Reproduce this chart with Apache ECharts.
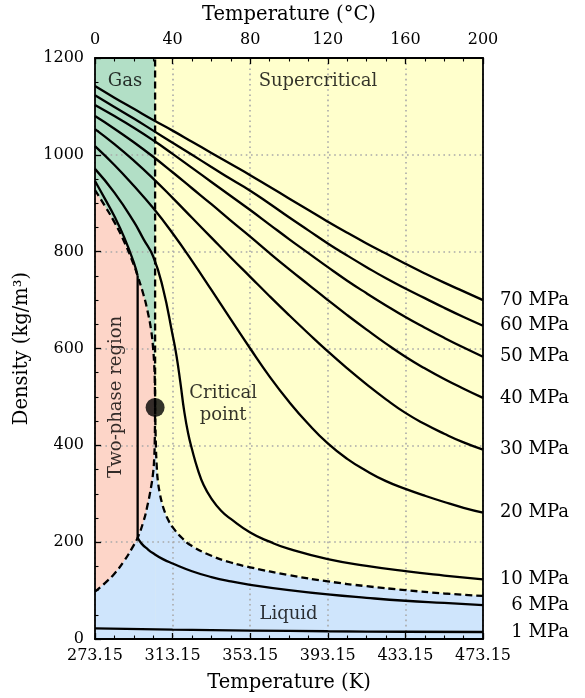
<!DOCTYPE html>
<html>
<head>
<meta charset="utf-8">
<title>CO2 density isobars</title>
<script src="https://cdn.jsdelivr.net/npm/echarts@6/dist/echarts.min.js"></script>
<style>
  html, body { margin: 0; padding: 0; background: #fff; }
  #chart { width: 585px; height: 698px; }
</style>
</head>
<body>
<div id="chart"></div>
<script>
// Critical point of CO2 (K, kg/m3)
const T_CRIT = 304.13;
const RHO_CRIT = 478;

// Isobars 20–70 MPa share one temperature grid (K), every 10 K
const T_ISO = [273.15, 283.15, 293.15, 303.15, 313.15, 323.15, 333.15, 343.15, 353.15, 363.15, 373.15,
               383.15, 393.15, 403.15, 413.15, 423.15, 433.15, 443.15, 453.15, 463.15, 473.15];
const rho70 = [1142, 1118, 1095, 1072, 1050, 1027, 1004, 981, 958, 934, 910, 886, 862, 839, 817, 796, 775, 755, 736, 718, 700];
const rho60 = [1123, 1099, 1075, 1050, 1025, 1000, 975, 950, 926, 899, 871, 844, 817, 792, 768, 745, 724, 704, 684, 665, 647];
const rho50 = [1103, 1080, 1056, 1030, 1002, 973, 944, 915, 886, 856, 826, 797, 768, 740, 714, 689, 665, 643, 622, 602, 583];
const rho40 = [1080, 1054, 1026, 996, 964, 931, 898, 864, 831, 797, 764, 732, 700, 669, 639, 610, 583, 559, 537, 517, 498];
const rho30 = [1053, 1022, 988, 951, 911, 870, 829, 788, 748, 708, 669, 631, 594, 559, 526, 495, 467, 444, 424, 406, 391];
const rho20 = [1018, 979, 936, 890, 838, 781, 721, 660, 600, 542, 490, 444, 404, 372, 347, 326, 310, 296, 283, 271, 261];

// 10 MPa isobar (steep drop just above the critical temperature)
const T_10 = [273.15, 283.15, 293.15, 298.15, 303.15, 308.15, 313.15, 315.15, 317.15, 319.15, 321.15, 323.15, 326.15, 329.15, 333.15, 338.15, 343.15, 353.15, 363.15, 373.15, 393.15, 413.15, 433.15, 453.15, 473.15];
const rho10 = [971, 922, 862, 826, 790, 725, 628, 585, 530, 470, 425, 392, 350, 318, 290, 265, 248, 220, 201, 186, 165, 151, 140, 131, 123];

// 6 MPa isobar: liquid branch, boiling at 295.13 K, vapour branch
const T_6_LIQ = [273.15, 278.15, 283.15, 288.15, 293.15, 295.13];
const rho6Liq = [946, 910, 873, 830, 778, 750];
const T_6_VAP = [295.13, 297.15, 300.15, 303.15, 308.15, 313.15, 323.15, 333.15, 343.15, 353.15, 373.15, 393.15, 413.15, 433.15, 453.15, 473.15];
const rho6Vap = [209, 197, 186, 177, 165, 156, 140, 128, 119, 112, 101, 92, 85, 79, 74.5, 70];

// 1 MPa isobar (gas throughout)
const T_1 = [273.15, 313.15, 353.15, 393.15, 433.15, 473.15];
const rho1 = [22, 19.5, 17.5, 16, 15, 14.5];

// Saturation curve (liquid and vapour densities)
const T_SAT = [273.15, 278.15, 283.15, 288.15, 293.15, 295.13, 298.15, 300.15, 302.15, 303.15, 303.65, 303.95, T_CRIT];
const rhoSatLiq = [927, 895, 861, 821, 773, 750, 711, 679, 636, 598, 568, 538, RHO_CRIT];
const rhoSatVap = [98, 115, 135, 161, 194, 209, 243, 275, 316, 345, 372, 408, RHO_CRIT];

// Critical isobar (7.38 MPa) above the critical temperature
const T_CRIT_ISO = [T_CRIT, 304.5, 305.0, 305.6, 306.6, 307.6, 309.15, 311.15, 313.15, 318.15, 323.15, 333.15, 343.15, 353.15, 373.15, 393.15, 413.15, 433.15, 453.15, 473.15];
const rhoCritIso = [RHO_CRIT, 405, 355, 325, 300, 282, 262, 244, 231, 208, 192, 172, 158, 148, 132, 119, 109, 101, 94, 89];

// Axis extents and ticks
const T_MIN = 273.15, T_MAX = 473.15;
const RHO_MAX = 1200;
const C_TICK = 40, RHO_TICK = 200;

// Region names: [T (K), density, text]
const regionLabels = [
  [288.6, 1152, 'Gas'],
  [388.1, 1151, 'Supercritical'],
  [339.2, 484, 'Critical\npoint'],
  [372.9, 51, 'Liquid']
];
const twoPhaseLabel = [284.4, 500, 'Two-phase region'];

const FONT = 'DejaVu Serif';
const FS_TICK = 16;
const FS = 18;
const FS_NAME = 19.5;

const toC = t => +(t - 273.15).toFixed(3);
const pts = (T, rho) => T.map((t, i) => [toC(t), rho[i]]);

const FILL = { gas: '#b2dfc6', super: '#ffffcc', twoPhase: '#fdd5c8', liquid: '#cfe5fc' };
const SMOOTH = 0.5;

function fill(data, color, z) {
  return {
    type: 'line', data, z, silent: true, symbol: 'none',
    smooth: SMOOTH,
    lineStyle: { width: 0, opacity: 0 },
    areaStyle: { color, opacity: 1, origin: 'start' }
  };
}

function curve(name, data, opts) {
  opts = opts || {};
  const s = {
    type: 'line', name, data, z: 6, silent: true, symbol: 'none',
    smooth: opts.straight ? false : SMOOTH,
    lineStyle: { color: '#000', width: 2.3, type: opts.dashed ? [7, 4] : 'solid' }
  };
  if (opts.label) {
    s.endLabel = {
      show: true, formatter: opts.label, distance: 86, align: 'right',
      color: '#000', fontFamily: FONT, fontSize: FS,
      padding: opts.lift ? [0, 0, opts.lift, 0] : 0
    };
  }
  return s;
}

const isobars = [
  ['70 MPa', rho70], ['60 MPa', rho60], ['50 MPa', rho50],
  ['40 MPa', rho40], ['30 MPa', rho30], ['20 MPa', rho20]
];

const series = [
  // background regions
  fill([[toC(T_MIN), RHO_MAX], [toC(T_CRIT), RHO_MAX]], FILL.gas, 1),
  fill([[toC(T_CRIT), RHO_MAX], [toC(T_MAX), RHO_MAX]], FILL.super, 1),
  fill(pts(T_SAT, rhoSatLiq), FILL.twoPhase, 2),
  fill(pts(T_SAT, rhoSatVap), FILL.liquid, 3),
  fill(pts(T_CRIT_ISO, rhoCritIso), FILL.liquid, 3),
  // phase boundaries
  curve('sat-liq', pts(T_SAT, rhoSatLiq), { dashed: true }),
  curve('sat-vap', pts(T_SAT, rhoSatVap), { dashed: true }),
  curve('crit-iso', pts(T_CRIT_ISO, rhoCritIso), { dashed: true }),
  curve('crit-T', [[toC(T_CRIT), RHO_CRIT], [toC(T_CRIT), RHO_MAX]], { dashed: true, straight: true }),
  // isobars
  ...isobars.map(([n, r]) => curve(n, pts(T_ISO, r), { label: n })),
  curve('10 MPa', pts(T_10, rho10), { label: '10 MPa' }),
  curve('6 MPa liquid', pts(T_6_LIQ, rho6Liq)),
  curve('6 MPa boiling', [[toC(295.13), rho6Liq[rho6Liq.length - 1]], [toC(295.13), rho6Vap[0]]], { straight: true }),
  curve('6 MPa', pts(T_6_VAP, rho6Vap), { label: '6 MPa', lift: 6 }),
  curve('1 MPa', pts(T_1, rho1), { label: '1 MPa' }),
  // critical point
  {
    type: 'scatter', z: 7, silent: true, symbol: 'circle', symbolSize: 19,
    itemStyle: { color: '#000' }, data: [[toC(T_CRIT), RHO_CRIT]]
  },
  // region names
  {
    type: 'scatter', z: 8, silent: true, symbolSize: 1,
    itemStyle: { color: 'transparent' },
    data: regionLabels.map(([t, r, txt]) => ({ value: [toC(t), r], name: txt })),
    label: {
      show: true, position: 'inside', formatter: p => p.name,
      color: '#000', fontFamily: FONT, fontSize: FS, lineHeight: 22, align: 'center'
    }
  },
  {
    type: 'scatter', z: 8, silent: true, symbolSize: 1,
    itemStyle: { color: 'transparent' },
    data: [{ value: [toC(twoPhaseLabel[0]), twoPhaseLabel[1]], name: twoPhaseLabel[2] }],
    label: {
      show: true, position: 'inside', rotate: 90, formatter: p => p.name,
      color: '#000', fontFamily: FONT, fontSize: FS
    }
  }
];

const tickText = { color: '#000', fontFamily: FONT, fontSize: FS_TICK };
const nameText = { color: '#000', fontFamily: FONT, fontSize: FS_NAME };
const frameLine = { show: true, onZero: false, lineStyle: { color: '#000', width: 1.8 } };
const tickIn = { show: true, inside: true, length: 6, lineStyle: { color: '#000', width: 1.3 } };
const minorIn = { show: true, splitNumber: 4, length: 3.5, lineStyle: { color: '#000', width: 1.1 } };
const dotted = { show: true, lineStyle: { color: '#a9a9a9', width: 1.6, type: [1.6, 3.6] } };

const xBase = {
  type: 'value', min: toC(T_MIN), max: toC(T_MAX), interval: C_TICK, z: 4,
  axisLine: frameLine, axisTick: tickIn, minorTick: minorIn,
  nameLocation: 'middle', nameTextStyle: nameText
};

const option = {
  animation: false,
  backgroundColor: '#fff',
  grid: { left: 95, right: 102, top: 57, bottom: 58, containLabel: false },
  xAxis: [
    Object.assign({}, xBase, {
      position: 'bottom', name: 'Temperature (K)', nameGap: 34,
      splitLine: dotted,
      axisLabel: Object.assign({ margin: 9, formatter: v => (v + 273.15).toFixed(2) }, tickText)
    }),
    Object.assign({}, xBase, {
      position: 'top', name: 'Temperature (°C)', nameGap: 33,
      splitLine: { show: false },
      axisLabel: Object.assign({ margin: 10, formatter: v => String(v) }, tickText)
    })
  ],
  yAxis: [
    {
      type: 'value', min: 0, max: RHO_MAX, interval: RHO_TICK, position: 'left', z: 4,
      axisLine: frameLine, axisTick: tickIn, minorTick: minorIn, splitLine: dotted,
      axisLabel: Object.assign({ margin: 11, formatter: v => String(v) }, tickText),
      name: 'Density (kg/m³)', nameLocation: 'middle', nameGap: 59,
      nameTextStyle: nameText
    },
    {
      type: 'value', min: 0, max: RHO_MAX, interval: RHO_TICK, position: 'right', z: 4,
      axisLine: frameLine, axisTick: { show: false }, axisLabel: { show: false },
      splitLine: { show: false }
    }
  ],
  series
};

const chart = echarts.init(document.getElementById('chart'), null, { renderer: 'canvas' });
chart.setOption(option);
</script>
</body>
</html>
